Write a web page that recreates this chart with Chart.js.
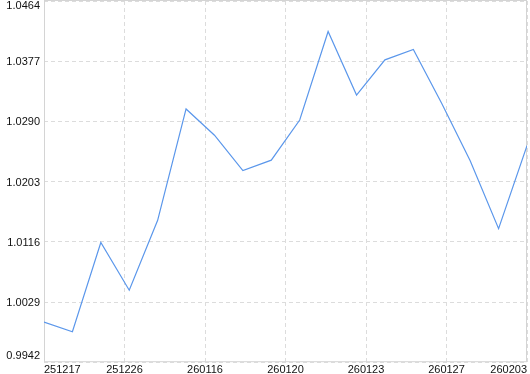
<!DOCTYPE html>
<html>
<head>
<meta charset="utf-8">
<script src="https://cdn.jsdelivr.net/npm/chart.js@4.4.1/dist/chart.umd.min.js"></script>
<style>
    html, body { margin: 0; padding: 0; background: #fff; }
    #wrap { width: 530px; height: 374px; position: relative; }
</style>
</head>
<body>
<div id="wrap"><canvas id="nav-chart"></canvas></div>
<script>
// net value series, one point per trading day
const navValues = [
    1.0000, 0.9986, 1.0115, 1.0046, 1.0147, 1.0308, 1.0270, 1.0219, 1.0234,
    1.0292, 1.0420, 1.0328, 1.0379, 1.0394, 1.0316, 1.0233, 1.0135, 1.0255
];
const xTickLabels = ['251217', '251226', '260116', '260120', '260123', '260127', '260203'];
const yTickValues = [0.9942, 1.0029, 1.0116, 1.0203, 1.0290, 1.0377, 1.0464];

const FONT = { family: '"Liberation Sans", Arial, sans-serif', size: 11 };
const GRID = '#dcdcdc';
const LINE = '#5b97eb';
const TEXT = '#111';

const lastIdx = navValues.length - 1;

// y labels sit inside the canvas at the ends, like the original
const yLabels = {
    id: 'yLabels',
    afterDraw(chart) {
        const { ctx, chartArea, scales } = chart;
        const y = scales.y;
        ctx.save();
        ctx.font = `${FONT.size}px ${FONT.family}`;
        ctx.fillStyle = TEXT;
        ctx.textAlign = 'right';
        ctx.textBaseline = 'middle';
        y.ticks.forEach(t => {
            let py = y.getPixelForValue(t.value) + 1;
            py = Math.min(Math.max(py, chartArea.top + 5), chartArea.bottom - 6);
            ctx.fillText(t.value.toFixed(4), chartArea.left - 4, py);
        });
        ctx.restore();
    }
};

const frame = {
    id: 'frame',
    beforeDatasetsDraw(chart) {
        const { ctx, chartArea: a } = chart;
        ctx.save();
        ctx.strokeStyle = '#d4d4d4';
        ctx.lineWidth = 1;
        ctx.strokeRect(a.left + 0.5, a.top - 0.5, a.right - a.left - 1, a.bottom - a.top);
        ctx.restore();
    }
};

new Chart(document.getElementById('nav-chart'), {
    type: 'line',
    data: {
        datasets: [{
            data: navValues.map((v, i) => ({ x: i, y: v })),
            borderColor: LINE,
            borderWidth: 1.2,
            pointRadius: 0,
            tension: 0,
            fill: false
        }]
    },
    options: {
        responsive: true,
        maintainAspectRatio: false,
        animation: false,
        layout: { padding: { left: 44, right: 0, top: 1, bottom: -3 } },
        plugins: { legend: { display: false }, tooltip: { enabled: false } },
        scales: {
            x: {
                type: 'linear',
                min: 0,
                max: lastIdx,
                afterBuildTicks: s => {
                    s.ticks = xTickLabels.map((_, i) => ({ value: i * lastIdx / (xTickLabels.length - 1) }));
                },
                ticks: {
                    autoSkip: false,
                    maxRotation: 0,
                    align: 'inner',
                    padding: 3,
                    color: TEXT,
                    font: { ...FONT, lineHeight: 0.8 },
                    callback: (v, i) => xTickLabels[i]
                },
                grid: { color: GRID, drawTicks: false },
                border: { display: false, dash: [4, 3] }
            },
            y: {
                min: yTickValues[0],
                max: yTickValues[yTickValues.length - 1],
                afterBuildTicks: s => {
                    s.ticks = yTickValues.map(v => ({ value: v }));
                },
                ticks: { display: false },
                grid: { color: GRID, drawTicks: false },
                border: { display: false, dash: [4, 3] }
            }
        }
    },
    plugins: [frame, yLabels]
});
</script>
</body>
</html>
